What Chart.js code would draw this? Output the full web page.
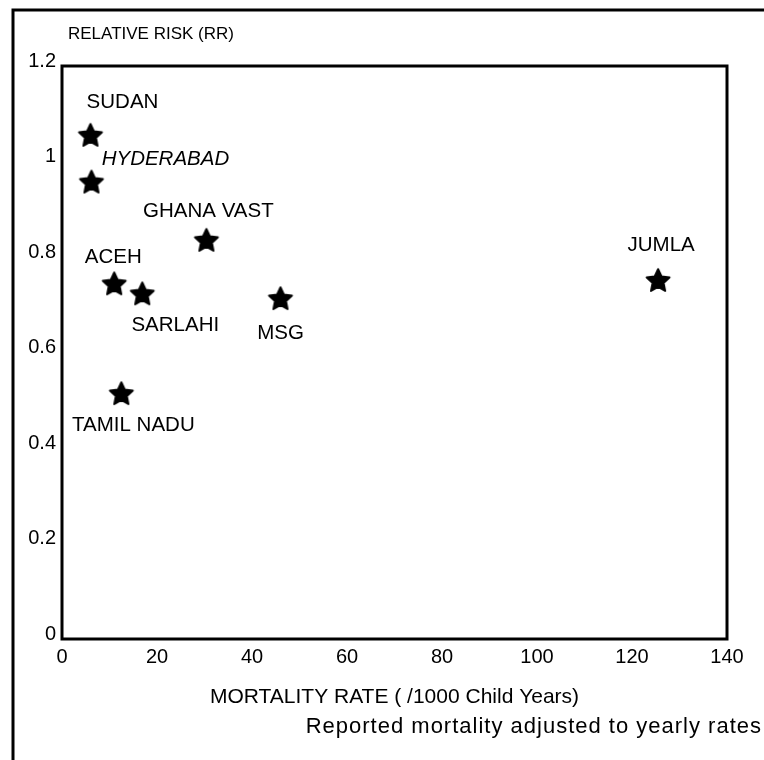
<!doctype html>
<html lang="en">
<head>
    <meta charset="utf-8">
    <title>Relative risk vs mortality rate</title>
    <script src="https://cdn.jsdelivr.net/npm/chart.js@4.4.0/dist/chart.umd.min.js"></script>
    <style>
        html, body { margin: 0; padding: 0; background: #fff; }
        #wrap { width: 764px; height: 760px; }
    </style>
</head>
<body>
    <div id="wrap"><canvas id="myChart" width="764" height="760"></canvas></div>
<script>
    // data
    const studies = ["SUDAN", "HYDERABAD", "GHANA VAST", "ACEH", "SARLAHI", "MSG", "TAMIL NADU", "JUMLA"];
    const mortality = [6.0, 6.2, 30.4, 11.0, 16.9, 46.0, 12.5, 125.5];
    const relRisk = [1.056, 0.958, 0.836, 0.745, 0.724, 0.714, 0.515, 0.752];
    const xTicks = [0, 20, 40, 60, 80, 100, 120, 140];
    const yTicks = [0, 0.2, 0.4, 0.6, 0.8, 1, 1.2];

    const yTitle = "RELATIVE RISK (RR)";
    const xTitle = "MORTALITY RATE ( /1000 Child Years)";
    const note = "Reported mortality adjusted to yearly rates";

    // where each study name sits relative to its star (px)
    const labelOffsets = [[32, -32], [74, -22], [2, -28], [-1, -26], [33, 32], [0, 35], [12, 32], [3, -35]];
    const italicLabels = ["HYDERABAD"];

    const FONT = "'Liberation Sans', Arial, sans-serif";

    let makeStar = (r) => {
        let c = document.createElement('canvas');
        let s = Math.ceil(r * 2 + 4);
        c.width = s;
        c.height = s;
        let g = c.getContext('2d');
        g.translate(s / 2, s / 2 + r * 0.1);
        g.beginPath();
        for (let i = 0; i < 10; i++) {
            let rad = i % 2 ? r * 0.48 : r;
            let a = -Math.PI / 2 + i * Math.PI / 5;
            g.lineTo(rad * Math.cos(a), rad * Math.sin(a));
        }
        g.closePath();
        g.fillStyle = '#000';
        g.fill();
        g.lineJoin = 'round';
        g.lineWidth = 2;
        g.strokeStyle = '#000';
        g.stroke();
        return c;
    };

    let decorations = {
        id: 'decorations',
        afterDraw: (chart) => {
            let ctx = chart.ctx;
            let a = chart.chartArea;
            let xs = chart.scales.x, ys = chart.scales.y;
            ctx.save();
            ctx.strokeStyle = '#000';

            // outer frame (left + top only visible)
            ctx.lineWidth = 3;
            ctx.beginPath();
            ctx.moveTo(13, 760);
            ctx.lineTo(13, 10);
            ctx.lineTo(764, 10);
            ctx.stroke();

            // plot box
            ctx.strokeRect(a.left, a.top, a.right - a.left, a.bottom - a.top);

            ctx.fillStyle = '#000';
            ctx.textBaseline = 'middle';

            ctx.font = "17px " + FONT;
            ctx.textAlign = 'left';
            ctx.fillText(yTitle, 68, 34);

            ctx.font = "21px " + FONT;
            ctx.textAlign = 'center';
            ctx.fillText(xTitle, (a.left + a.right) / 2, 697);

            ctx.font = "22px " + FONT;
            ctx.textAlign = 'right';
            ctx.letterSpacing = "1px";
            ctx.fillText(note, 762, 727);
            ctx.letterSpacing = "0px";

            // study names
            ctx.textAlign = 'center';
            studies.forEach((name, i) => {
                let px = xs.getPixelForValue(mortality[i]);
                let py = ys.getPixelForValue(relRisk[i]);
                ctx.font = (italicLabels.includes(name) ? "italic " : "") + "20.5px " + FONT;
                ctx.fillText(name, px + labelOffsets[i][0], py + labelOffsets[i][1]);
            });
            ctx.restore();
        }
    };

    let ctx = document.getElementById('myChart');
    let myChart = new Chart(ctx, {
        type: 'scatter',
        data: {
            datasets: [{
                label: 'Studies',
                data: studies.map((s, i) => ({ x: mortality[i], y: relRisk[i] })),
                pointStyle: makeStar(12),
                backgroundColor: '#000',
                borderColor: '#000'
            }]
        },
        options: {
            responsive: false,
            animation: false,
            layout: { padding: { top: 66, right: 37, left: 0, bottom: 0 } },
            plugins: { legend: { display: false }, tooltip: { enabled: false } },
            scales: {
                x: {
                    type: 'linear',
                    min: 0,
                    max: 140,
                    afterBuildTicks: (scale) => { scale.ticks = xTicks.map(v => ({ value: v })); },
                    afterFit: (scale) => { scale.height = 121; },
                    grid: { display: false, drawTicks: false },
                    border: { display: false },
                    ticks: { color: '#000', padding: 6, maxRotation: 0, font: { family: FONT, size: 20 } }
                },
                y: {
                    type: 'linear',
                    min: 0,
                    max: 1.2,
                    afterBuildTicks: (scale) => { scale.ticks = yTicks.map(v => ({ value: v })); },
                    afterFit: (scale) => { scale.width = 62; },
                    grid: { display: false, drawTicks: false },
                    border: { display: false },
                    ticks: {
                        color: '#000',
                        padding: 6,
                        labelOffset: -5,
                        font: { family: FONT, size: 20 },
                        callback: (v) => String(+Number(v).toFixed(1))
                    }
                }
            }
        },
        plugins: [decorations]
    });
</script>
</body>
</html>
